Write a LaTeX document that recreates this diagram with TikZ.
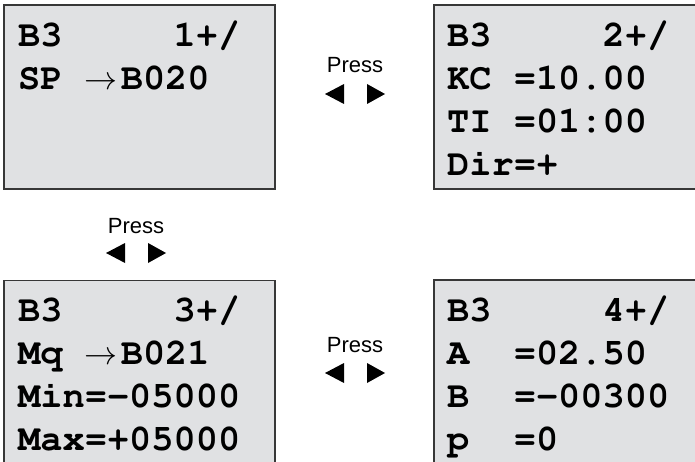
\RequirePackage{fix-cm}
\documentclass[tikz,border=0pt]{standalone}
\usepackage[T1]{fontenc}
\usepackage{fontspec}
\setmainfont{Liberation Sans}
\usepackage{xcolor}
\usetikzlibrary{positioning}
\definecolor{lcdgray}{RGB}{224,225,227}
\definecolor{lcdedge}{RGB}{55,55,55}
\newcommand{\lcdfont}{\fontencoding{T1}\fontfamily{pcr}\fontseries{b}\fontsize{37}{43}\selectfont}
\newcommand{\lcdstrut}{\rule{0pt}{32pt}}
\newcommand{\lcdarr}{\makebox[36pt][l]{\fontsize{33}{33}\selectfont$\rightarrow$}}
\tikzset{
  screen/.style={rectangle, draw=lcdedge, fill=lcdgray, line width=1.6pt,
                 anchor=north west, inner sep=0pt},
  lcd/.style={font=\lcdfont, align=left, inner sep=0pt, anchor=north west},
  presslbl/.style={font=\fontsize{22}{22}\selectfont, inner sep=0pt, anchor=base},
  keypair/.pic={
    \fill (-30,0) -- (-11,10) -- (-11,-10) -- cycle;
    \fill (30,0) -- (12,10) -- (12,-10) -- cycle;
  }
}
\begin{document}
\begin{tikzpicture}[x=1pt, y=1pt]
  \useasboundingbox (0,0) rectangle (695,461);
  \clip (0,0) rectangle (695,461);

  %% -- Screens --
  \node[screen, minimum width=271pt, minimum height=184pt] (scrA) at (3,457) {};
  \node[screen, minimum width=275pt, minimum height=184pt] (scrB) at (433,457) {};
  \node[screen, minimum width=271pt, minimum height=200pt] (scrC) at (3,181.5) {};
  \node[screen, minimum width=275pt, minimum height=200pt] (scrD) at (433,182) {};

  %% -- Screen texts --
  \node[lcd, below right=10pt and 15pt of scrA.north west] (txtA)
    {\lcdstrut B3~~~~~1+/\\SP~\lcdarr B020};
  \node[lcd, below right=10pt and 14pt of scrB.north west] (txtB)
    {\lcdstrut B3~~~~~2+/\\KC~=10.00\\TI~=01:00\\Dir=+};
  \node[lcd, below right=10pt and 15pt of scrC.north west] (txtC)
    {\lcdstrut B3~~~~~3+/\\Mq~\lcdarr B021\\Min=-05000\\Max=+05000};
  \node[lcd, below right=10pt and 14pt of scrD.north west] (txtD)
    {\lcdstrut B3~~~~~4+/\\A~~=02.50\\B~~=-00300\\p~~=0};

  %% -- Key hints --
  \node[presslbl] (pressA) at (355,388) {Press};
  \pic at ([yshift=-21pt]pressA.base) {keypair};
  \node[presslbl] (pressB) at (136,228) {Press};
  \pic at ([yshift=-20pt]pressB.base) {keypair};
  \node[presslbl] (pressC) at (355,109) {Press};
  \pic at ([yshift=-21pt]pressC.base) {keypair};
\end{tikzpicture}
\end{document}
